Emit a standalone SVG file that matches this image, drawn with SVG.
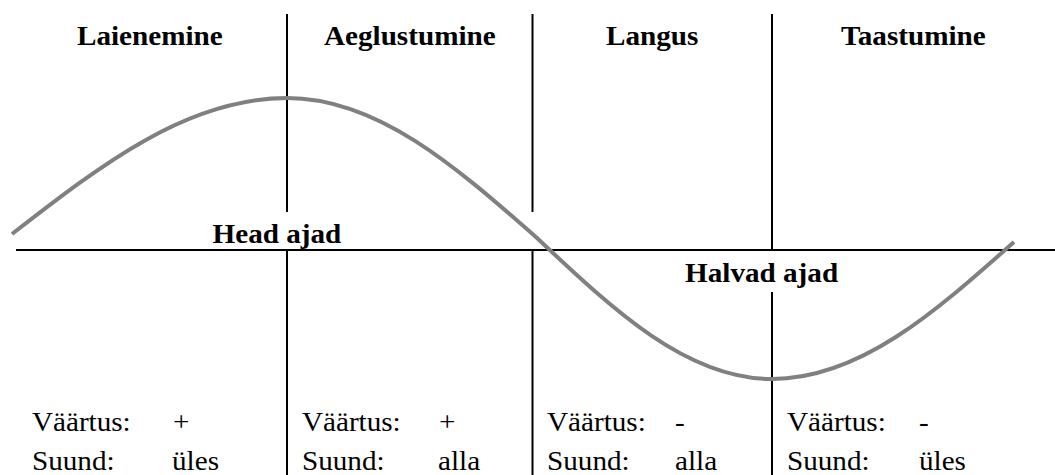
<svg xmlns="http://www.w3.org/2000/svg" width="1055" height="475" viewBox="0 0 1055 475">
<rect width="1055" height="475" fill="#fff"/>
<g id="connectors" stroke="#000" stroke-width="2" fill="none">
<line x1="287" y1="14" x2="287" y2="212"/>
<line x1="532.5" y1="14" x2="532.5" y2="212"/>
<line x1="772" y1="14" x2="772" y2="250"/>
<line x1="16" y1="250" x2="1055" y2="250"/>
<line x1="287" y1="250" x2="287" y2="475"/>
<line x1="532.5" y1="250" x2="532.5" y2="475"/>
<line x1="772" y1="292" x2="772" y2="475"/>
<path id="curve" stroke="#808080" stroke-width="4" d="M12,234 C101.7,164.4 187.5,98 287,98 C377.5,98 455.5,166.3 537,238 C613.6,310.2 686.9,379 772,379 C859.6,379 935.1,312.1 1014,242"/>
</g>
<g transform="scale(1.08,1)">
<g id="laienemine"><text font-family="Liberation Serif" font-size="27" font-weight="bold" x="71.3" y="45">Laienemine</text>
<text font-family="Liberation Serif" font-size="27" x="29.6" y="431">Väärtus:</text><text font-family="Liberation Serif" font-size="27" x="160.2" y="431">+</text>
<text font-family="Liberation Serif" font-size="27" x="29.6" y="470">Suund:</text><text font-family="Liberation Serif" font-size="27" x="159.3" y="470">üles</text></g>
<g id="aeglustumine"><text font-family="Liberation Serif" font-size="27" font-weight="bold" x="300" y="45">Aeglustumine</text>
<text font-family="Liberation Serif" font-size="27" x="279.6" y="431">Väärtus:</text><text font-family="Liberation Serif" font-size="27" x="406.5" y="431">+</text>
<text font-family="Liberation Serif" font-size="27" x="279.6" y="470">Suund:</text><text font-family="Liberation Serif" font-size="27" x="405.6" y="470">alla</text></g>
<g id="langus"><text font-family="Liberation Serif" font-size="27" font-weight="bold" x="561.1" y="45">Langus</text>
<text font-family="Liberation Serif" font-size="27" x="506.5" y="431">Väärtus:</text><text font-family="Liberation Serif" font-size="27" x="625" y="431">-</text>
<text font-family="Liberation Serif" font-size="27" x="506.5" y="470">Suund:</text><text font-family="Liberation Serif" font-size="27" x="625" y="470">alla</text></g>
<g id="taastumine"><text font-family="Liberation Serif" font-size="27" font-weight="bold" x="778.7" y="45">Taastumine</text>
<text font-family="Liberation Serif" font-size="27" x="728.7" y="431">Väärtus:</text><text font-family="Liberation Serif" font-size="27" x="850.9" y="431">-</text>
<text font-family="Liberation Serif" font-size="27" x="728.7" y="470">Suund:</text><text font-family="Liberation Serif" font-size="27" x="850.9" y="470">üles</text></g>
<g id="head-ajad"><text font-family="Liberation Serif" font-size="27" font-weight="bold" x="196.8" y="243">Head ajad</text></g>
<g id="halvad-ajad"><text font-family="Liberation Serif" font-size="27" font-weight="bold" x="634.3" y="282">Halvad ajad</text></g>
</g>
</svg>
